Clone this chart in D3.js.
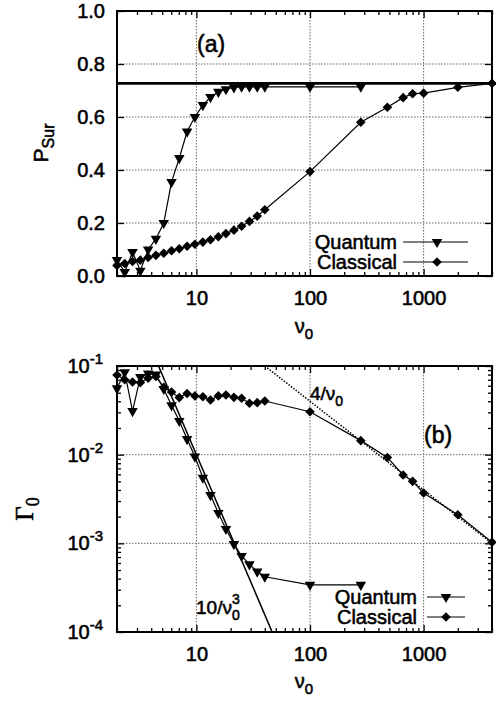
<!DOCTYPE html>
<html>
<head>
<meta charset="utf-8">
<script src="https://cdn.jsdelivr.net/npm/d3@7"></script>
<style>
body { margin: 0; background: #fff; }
text { font-family: "Liberation Sans", Arial, Helvetica, sans-serif; fill: #000; stroke: #000; stroke-width: 0.55; }
.grid { stroke: #666; stroke-width: 1; stroke-dasharray: 1.5,1.5; }
</style>
</head>
<body>
<svg id="fig" width="496" height="702"></svg>
<script>
// nu0 values of the dense run (2..40), both curves use them
const nuLow = [2, 2.34, 2.74, 3.21, 3.76, 4.4, 5.16, 6.04, 7.07, 8.28, 9.7, 11.4, 13.3, 15.6, 18.2, 21.4, 25, 29.3, 34.3, 40];
const nuQuantumHigh = [100, 280];
const nuClassicalHigh = [100, 280, 480, 660, 800, 1000, 2000, 4000];

// (a) survival probability
const psurQuantum = [0.06, 0.015, 0.09, 0.02, 0.10, 0.14, 0.20, 0.355, 0.445, 0.545, 0.60, 0.645, 0.675, 0.695, 0.705, 0.712, 0.714, 0.714, 0.714, 0.714,
  0.714, 0.714];
const psurClassical = [0.04, 0.047, 0.055, 0.06, 0.07, 0.078, 0.086, 0.095, 0.103, 0.112, 0.12, 0.128, 0.137, 0.148, 0.16, 0.173, 0.188, 0.206, 0.226, 0.25,
  0.394, 0.58, 0.637, 0.673, 0.688, 0.69, 0.712, 0.727];
const psurLimit = 0.727;

// (b) decay rate
const gammaQuantum = [0.056, 0.085, 0.031, 0.075, 0.082, 0.08, 0.055, 0.036, 0.024, 0.015, 0.0095, 0.0055, 0.0035, 0.0022, 0.00145, 0.00098, 0.00072, 0.00058, 0.00048, 0.00042,
  0.00034, 0.00034];
const gammaClassical = [0.079, 0.07, 0.066, 0.065, 0.073, 0.076, 0.0575, 0.051, 0.044, 0.049, 0.046, 0.045, 0.0414, 0.046, 0.047, 0.0443, 0.0432, 0.038, 0.0386, 0.0403,
  0.0305, 0.0144, 0.0093, 0.0059, 0.005, 0.0037, 0.0021, 0.00103];

const xTicks = [10, 100, 1000];
const psurTicks = [0, 0.2, 0.4, 0.6, 0.8, 1.0];
const gammaTicks = [1e-4, 1e-3, 1e-2, 1e-1];
const gammaTickExp = ["-4", "-3", "-2", "-1"];

const svg = d3.select("#fig");
const left = 117, right = 492;

const x = d3.scaleLog().domain([2, 4000]).range([left, right]);
const yA = d3.scaleLinear().domain([0, 1]).range([276, 11]);
const yB = d3.scaleLog().domain([1e-4, 1e-1]).range([632, 366]);

const quantumNu = nuLow.concat(nuQuantumHigh);
const classicalNu = nuLow.concat(nuClassicalHigh);

const triangle = d3.symbol().type(d3.symbolTriangle).size(48);
const diamond = d3.symbol().type(d3.symbolSquare).size(46);

function frame(y, yMajor, yMinor, yFormat) {
  const [bottom, top] = y.range();
  const xMinor = x.ticks().filter(v => !xTicks.includes(v));
  const g = svg.append("g");

  // dotted grid
  g.append("g").selectAll("line").data(xTicks).join("line")
    .attr("class", "grid")
    .attr("x1", d => x(d)).attr("x2", d => x(d))
    .attr("y1", top).attr("y2", bottom);
  g.append("g").selectAll("line").data(yMajor.slice(1, -1)).join("line")
    .attr("class", "grid")
    .attr("x1", left).attr("x2", right)
    .attr("y1", d => y(d)).attr("y2", d => y(d));

  const tidy = a => a.call(s => s.select(".domain").remove())
    .attr("font-size", 20).attr("font-family", null)
    .selectAll("line").attr("stroke-width", 1.3);

  g.append("g").attr("transform", `translate(0,${bottom})`)
    .call(d3.axisBottom(x).tickValues(xTicks).tickSize(-7).tickPadding(15).tickFormat(d3.format("d")))
    .call(tidy);
  g.append("g").attr("transform", `translate(0,${bottom})`)
    .call(d3.axisBottom(x).tickValues(xMinor).tickSize(-4).tickFormat(""))
    .call(tidy);
  g.append("g").attr("transform", `translate(0,${top})`)
    .call(d3.axisTop(x).tickValues(xTicks).tickSize(-7).tickFormat(""))
    .call(tidy);
  g.append("g").attr("transform", `translate(0,${top})`)
    .call(d3.axisTop(x).tickValues(xMinor).tickSize(-4).tickFormat(""))
    .call(tidy);

  g.append("g").attr("transform", `translate(${left},0)`)
    .call(d3.axisLeft(y).tickValues(yMajor).tickSize(-7).tickPadding(12).tickFormat(yFormat))
    .call(tidy);
  g.append("g").attr("transform", `translate(${right},0)`)
    .call(d3.axisRight(y).tickValues(yMajor).tickSize(-7).tickFormat(""))
    .call(tidy);
  if (yMinor.length) {
    g.append("g").attr("transform", `translate(${left},0)`)
      .call(d3.axisLeft(y).tickValues(yMinor).tickSize(-4).tickFormat(""))
      .call(tidy);
    g.append("g").attr("transform", `translate(${right},0)`)
      .call(d3.axisRight(y).tickValues(yMinor).tickSize(-4).tickFormat(""))
      .call(tidy);
  }
  return g;
}

function series(y, nu, vals, sym, rot) {
  const pts = nu.map((n, i) => [n, vals[i]]);
  svg.append("path")
    .datum(pts)
    .attr("fill", "none").attr("stroke", "#000").attr("stroke-width", 1.2)
    .attr("d", d3.line().x(d => x(d[0])).y(d => y(d[1])));
  svg.append("g").selectAll("path").data(pts).join("path")
    .attr("d", sym)
    .attr("transform", d => `translate(${x(d[0])},${y(d[1])}) rotate(${rot})`)
    .attr("fill", "#000");
}

function legend(textEnd, y1, y2, lx1, lx2, mx) {
  const items = [["Quantum", triangle, 180, y1], ["Classical", diamond, 45, y2]];
  items.forEach(([name, sym, rot, yy]) => {
    svg.append("text").attr("x", textEnd).attr("y", yy + 7)
      .attr("text-anchor", "end").attr("font-size", 20).text(name);
    svg.append("line").attr("x1", lx1).attr("x2", lx2).attr("y1", yy).attr("y2", yy)
      .attr("stroke", "#000").attr("stroke-width", 1.2);
    svg.append("path").attr("d", sym).attr("fill", "#000")
      .attr("transform", `translate(${mx},${yy}) rotate(${rot})`);
  });
}

// ---------- panel (a) ----------
svg.append("clipPath").attr("id", "clipB").append("rect")
  .attr("x", left).attr("y", 366).attr("width", right - left).attr("height", 266);

frame(yA, psurTicks, [], d3.format(".1f"));

svg.append("line")
  .attr("x1", left).attr("x2", right)
  .attr("y1", yA(psurLimit)).attr("y2", yA(psurLimit))
  .attr("stroke", "#000").attr("stroke-width", 2.6);

series(yA, quantumNu, psurQuantum, triangle, 180);
series(yA, classicalNu, psurClassical, diamond, 45);

svg.append("rect").attr("x", left).attr("y", 11).attr("width", right - left).attr("height", 265)
  .attr("fill", "none").attr("stroke", "#000").attr("stroke-width", 2);

svg.append("text").attr("x", 197).attr("y", 52).attr("font-size", 23).text("(a)");
legend(397, 242, 262, 403, 468, 437);

svg.append("text").attr("x", 304).attr("y", 333).attr("text-anchor", "middle").attr("font-size", 20)
  .call(t => { t.append("tspan").text("ν"); t.append("tspan").attr("dy", 6).attr("font-size", 15).text("0"); });
svg.append("text").attr("transform", "translate(48,143) rotate(-90)").attr("text-anchor", "middle").attr("font-size", 21)
  .call(t => { t.append("tspan").text("P"); t.append("tspan").attr("dy", 6).attr("font-size", 16).text("Sur"); });

// ---------- panel (b) ----------
const gMinor = yB.ticks().filter(v => !gammaTicks.includes(v));
frame(yB, gammaTicks, gMinor, () => "");

gammaTicks.forEach((v, i) => {
  svg.append("text").attr("x", 103).attr("y", yB(v) + 7).attr("text-anchor", "end").attr("font-size", 20)
    .call(t => {
      t.append("tspan").text("10");
      t.append("tspan").attr("dy", -9).attr("font-size", 15).text(gammaTickExp[i]);
    });
});

// guide lines 4/nu0 and 10/nu0^3
const guideNu = [1, 10000];
svg.append("path").datum(guideNu)
  .attr("clip-path", "url(#clipB)")
  .attr("fill", "none").attr("stroke", "#000").attr("stroke-width", 1.5).attr("stroke-dasharray", "1.5,1.5")
  .attr("d", d3.line().x(d => x(d)).y(d => yB(4 / d)));
svg.append("path").datum(guideNu)
  .attr("clip-path", "url(#clipB)")
  .attr("fill", "none").attr("stroke", "#000").attr("stroke-width", 1.5)
  .attr("d", d3.line().x(d => x(d)).y(d => yB(10 / (d * d * d))));

series(yB, quantumNu, gammaQuantum, triangle, 180);
series(yB, classicalNu, gammaClassical, diamond, 45);

svg.append("rect").attr("x", left).attr("y", 366).attr("width", right - left).attr("height", 266)
  .attr("fill", "none").attr("stroke", "#000").attr("stroke-width", 2);

svg.append("text").attr("x", 424).attr("y", 443).attr("font-size", 23).text("(b)");
legend(417, 597, 617, 427, 465, 446);

svg.append("text").attr("x", 310).attr("y", 400).attr("font-size", 19)
  .call(t => { t.append("tspan").text("4/ν"); t.append("tspan").attr("dy", 6).attr("font-size", 14).text("0"); });
svg.append("text").attr("x", 196).attr("y", 614).attr("font-size", 19)
  .call(t => {
    t.append("tspan").text("10/ν");
    t.append("tspan").attr("dy", -10).attr("font-size", 14).text("3");
    t.append("tspan").attr("dx", -7.8).attr("dy", 16).attr("font-size", 14).text("0");
  });

svg.append("text").attr("x", 304).attr("y", 688).attr("text-anchor", "middle").attr("font-size", 20)
  .call(t => { t.append("tspan").text("ν"); t.append("tspan").attr("dy", 6).attr("font-size", 15).text("0"); });
svg.append("text").attr("transform", "translate(33,509) rotate(-90)").attr("text-anchor", "middle")
  .attr("font-size", 25).style("font-family", "'Liberation Serif', 'Times New Roman', serif")
  .call(t => { t.append("tspan").text("Γ"); t.append("tspan").attr("dy", 6).attr("font-size", 18).text("0"); });
</script>
</body>
</html>
